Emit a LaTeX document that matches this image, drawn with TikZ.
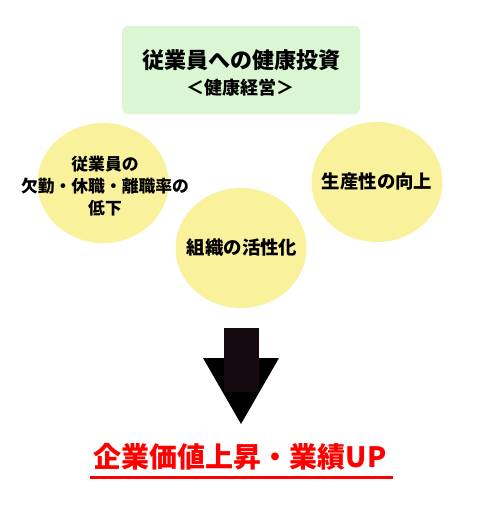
\documentclass[tikz,border=0pt]{standalone}
\usepackage{fontspec}
\usetikzlibrary{shapes.geometric}
\setmainfont{Noto Sans CJK JP}
\definecolor{boxgreen}{HTML}{DAF6D2}
\definecolor{circyellow}{HTML}{FAF19C}
\definecolor{shaftcol}{HTML}{140A10}
\begin{document}
\begin{tikzpicture}[x=1pt,y=-1pt,
  bubble/.style={ellipse, fill=circyellow, draw=none, minimum width=131pt, minimum height=120pt, inner sep=0pt},
  ctext/.style={font=\bfseries\fontsize{16.8}{22}\selectfont, align=center, text=black}]
\useasboundingbox (0,0) rectangle (482,511);
\fill[white] (0,0) rectangle (482,511);
% top box
\node[fill=boxgreen, rounded corners=5pt, minimum width=238pt, minimum height=88pt, inner sep=0pt] (top) at (241,70) {};
\node[font=\bfseries\fontsize{22}{24}\selectfont] (t1) at (241,60) {従業員への健康投資};
\node[font=\bfseries\fontsize{18}{20}\selectfont] (t2) at (240,88) {＜健康経営＞};
% circles
\node[bubble] (c1) at (103,183) {};
\node[ctext] (c1t) at (105,186) {従業員の\\欠勤・休職・離職率の\\低下};
\node[bubble] (c2) at (241,248) {};
\node[ctext, font=\bfseries\fontsize{18.4}{22}\selectfont] (c2t) at (242,248) {組織の活性化};
\node[bubble] (c3) at (377,182) {};
\node[ctext, font=\bfseries\fontsize{18.4}{22}\selectfont] (c3t) at (377,182) {生産性の向上};
% arrow
\coordinate (ashaft) at (241,328);
\fill[black] (203,358) -- (279,358) -- (241,424) -- cycle;
\fill[shaftcol] (224,328) rectangle (259,392);
% result
\node[font=\bfseries\fontsize{28}{30}\selectfont, text=red] (res) at (240,457) {企業価値上昇・業績UP};
\draw[red, line width=3pt] (90,477) -- (393,477);
\end{tikzpicture}
\end{document}
